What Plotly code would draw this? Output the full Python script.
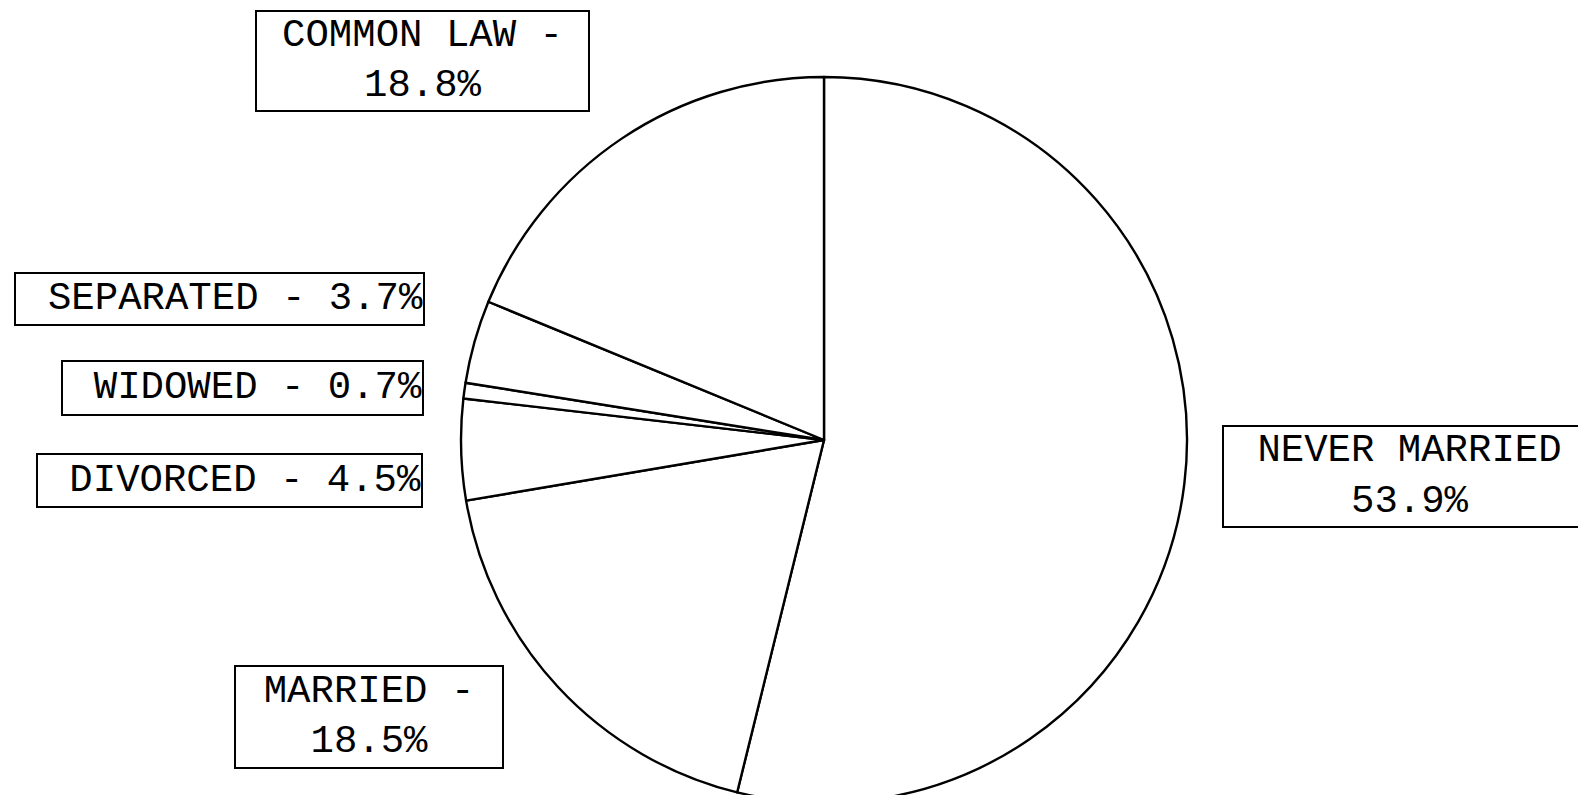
import plotly.graph_objects as go

categories = ["NEVER MARRIED", "MARRIED", "DIVORCED", "WIDOWED", "SEPARATED", "COMMON LAW"]
values = [53.9, 18.5, 4.5, 0.7, 3.7, 18.8]
label_texts = [
    "NEVER MARRIED<br>53.9%",
    "MARRIED -<br>18.5%",
    "DIVORCED - 4.5%",
    "WIDOWED - 0.7%",
    "SEPARATED - 3.7%",
    "COMMON LAW -<br>18.8%",
]

W, H = 1586, 795
cx, cy, r = 816, 432, 363

fig = go.Figure(go.Pie(
    labels=categories,
    values=values,
    sort=False,
    direction="clockwise",
    rotation=0,
    marker=dict(colors=["white"] * len(values), line=dict(color="black", width=2.4)),
    textinfo="none",
    hoverinfo="skip",
    showlegend=False,
    domain=dict(x=[(cx - r) / W, (cx + r) / W], y=[max(0, (H - cy - r) / H), min(1, (H - cy + r) / H)]),
))

# box geometry: (left, top, right, bottom, align)
boxes = [
    (1214, 417, 1589, 520, "center"),
    (226, 657, 496, 761, "center"),
    (28, 445, 415, 500, "right"),
    (53, 352, 416, 408, "right"),
    (6, 264, 417, 318, "right"),
    (247, 2, 582, 104, "center"),
]

bw = 2
for text, (l, t, rr, b, al) in zip(label_texts, boxes):
    fig.add_annotation(
        text=text,
        xref="paper", yref="paper",
        x=l / W, y=1 - t / H,
        xanchor="left", yanchor="top",
        width=rr - l - 2 * bw, height=b - t - 2 * bw,
        align=al, valign="middle",
        showarrow=False,
        bordercolor="black", borderwidth=bw, borderpad=0,
        bgcolor="white",
        font=dict(family="Liberation Mono", size=39, color="black"),
    )

fig.update_layout(
    width=W, height=H,
    margin=dict(l=0, r=0, t=0, b=0),
    paper_bgcolor="white",
    plot_bgcolor="white",
)

fig.write_html("out.html")
